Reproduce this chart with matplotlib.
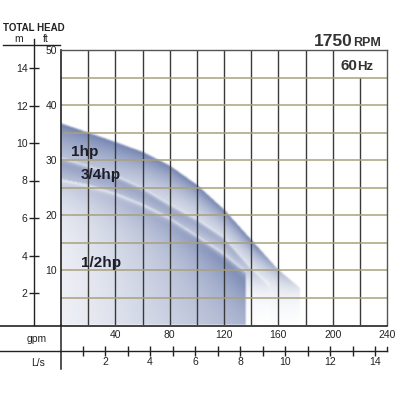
import numpy as np
import matplotlib
matplotlib.use("Agg")
import matplotlib.pyplot as plt
from matplotlib.lines import Line2D

# ---- data ----
gpm_1hp = [0, 20, 40, 60, 80, 100, 120, 140, 160, 176]
ft_1hp = [36.7, 35.0, 33.3, 31.5, 29.0, 25.5, 21.0, 15.5, 10.0, 6.7]
gpm_34hp = [0, 20, 40, 60, 80, 100, 120, 140, 154]
ft_34hp = [30.5, 29.0, 27.3, 25.0, 22.0, 19.3, 16.0, 10.5, 7.3]
gpm_12hp = [0, 20, 40, 60, 80, 100, 120, 136]
ft_12hp = [26.5, 25.5, 24.0, 22.0, 19.5, 16.3, 13.0, 9.8]

ft_ticks = [10, 20, 30, 40, 50]
m_ticks = [2, 4, 6, 8, 10, 12, 14]
gpm_ticks = [40, 80, 120, 160, 200, 240]
ls_ticks = list(range(1, 15))
ls_labels = [str(v) if v % 2 == 0 else "" for v in ls_ticks]

plt.rcParams['font.family'] = ['Liberation Sans', 'DejaVu Sans']

W = H = 400.0
def fx(x):
    return x / W
def fy(y):
    return 1 - y / H

fig = plt.figure(figsize=(4, 4), dpi=100)
fig.patch.set_facecolor('white')

ax = fig.add_axes([fx(61), fy(325), (387 - 61) / W, (325 - 50) / H])
ax.set_xlim(0, 240)
ax.set_ylim(0, 50)

# ---- gradient shading of the pump curves ----
xs = np.linspace(0, 240, 720)
ys = np.linspace(0, 50, 300)
X, Y = np.meshgrid(xs, ys)

c1 = np.interp(X, gpm_1hp, ft_1hp)
c34 = np.interp(X, gpm_34hp, ft_34hp)
c12 = np.interp(X, gpm_12hp, ft_12hp)
in1 = (X <= gpm_1hp[-1]) & (Y <= c1)
in34 = (X <= gpm_34hp[-1]) & (Y <= c34)
in12 = (X <= gpm_12hp[-1]) & (Y <= c12)

t = np.zeros_like(X)
# 1 hp band
d1 = c1 - Y
L1 = np.interp(X, [0, 100, 176], [9.0, 5.0, 2.2])
fade1 = np.clip((182 - X) / 38.0, 0, 1) ** 0.8
t1 = 0.8 * np.exp(-d1 / L1) * fade1
m1 = in1 & ~in34
t[m1] = t1[m1]
# 3/4 hp band
d34 = c34 - Y
L34 = np.interp(X, [0, 100, 154], [6.0, 4.0, 2.0])
fade34 = np.clip((160 - X) / 32.0, 0, 1) ** 0.8
t34 = 0.78 * (1 - np.exp(-d34 / 0.45)) * np.exp(-d34 / L34) * fade34
m34 = in34 & ~in12
t[m34] = t34[m34]
# 1/2 hp region
d12 = c12 - Y
base = (0.12 + 0.5 * (X / 136.0) ** 1.1) * (0.75 + 0.25 * Y / np.maximum(c12, 1)) \
    + 0.28 * np.exp(-d12 / 4.0)
t12 = (1 - np.exp(-d12 / 0.45)) * np.clip(base, 0, 0.72)
t[in12] = t12[in12]

# slight softening
k = np.ones(5) / 5.0
t = np.apply_along_axis(lambda r: np.convolve(r, k, mode='same'), 1, t)
k2 = np.ones(3) / 3.0
t = np.apply_along_axis(lambda c: np.convolve(c, k2, mode='same'), 0, t)

blue = np.array([82, 102, 158]) / 255.0
rgb = 1 - t[..., None] * (1 - blue[None, None, :])
ax.imshow(rgb, extent=(0, 240, 0, 50), origin='lower', aspect='auto',
          zorder=0, interpolation='bilinear')

# ---- grid ----
for g in range(20, 240, 20):
    top = 45 if g == 220 else 50
    ax.plot([g, g], [0, top], color='#3a3a3a', lw=1.0, zorder=2)
for f in range(5, 50, 5):
    ax.axhline(f, color='#a8a07c', lw=1.1, zorder=2)

for s in ['top', 'right']:
    ax.spines[s].set_color('#555555')
    ax.spines[s].set_linewidth(1.0)
ax.spines['left'].set_color('#222222')
ax.spines['left'].set_linewidth(1.2)
ax.spines['bottom'].set_visible(False)

ax.set_yticks(ft_ticks)
ax.set_yticklabels([str(v) for v in ft_ticks])
ax.set_xticks(gpm_ticks)
ax.set_xticklabels([str(v) for v in gpm_ticks])
ax.tick_params(axis='y', length=0, pad=3, labelsize=7.5, colors='#222222')
ax.tick_params(axis='x', length=0, pad=3.5, labelsize=7.5, colors='#222222')

# curve labels
ax.text(17.7, 31.5, '1hp', fontsize=11, fontweight='bold', color='#1e1e2a',
        ha='center', va='center', zorder=3)
ax.text(29.5, 27.3, '3/4hp', fontsize=11, fontweight='bold', color='#1e1e2a',
        ha='center', va='center', zorder=3)
ax.text(29.5, 11.3, '1/2hp', fontsize=11, fontweight='bold', color='#1e1e2a',
        ha='center', va='center', zorder=3)

# ---- metre axis ----
m_bot = (330.5 - 325) / 18.75
m_top = (330.5 - 39) / 18.75
axm = fig.add_axes([fx(34), fy(325), 0.0001, (325 - 39) / H])
axm.set_ylim(m_bot, m_top)
axm.set_xticks([])
for s in ['top', 'right', 'bottom']:
    axm.spines[s].set_visible(False)
axm.spines['left'].set_color('#222222')
axm.spines['left'].set_linewidth(1.0)
axm.set_yticks(m_ticks)
axm.set_yticklabels([str(v) for v in m_ticks])
axm.tick_params(axis='y', direction='inout', length=7, width=1.0, pad=1,
                labelsize=7.5, colors='#222222')
axm.patch.set_visible(False)

# ---- L/s axis ----
ls_max = (387 - 60) / 22.5
axl = fig.add_axes([fx(60), fy(351), (387 - 60) / W, 0.0001])
axl.set_xlim(0, ls_max)
axl.set_yticks([])
for s in ['top', 'right', 'left']:
    axl.spines[s].set_visible(False)
axl.spines['bottom'].set_color('#222222')
axl.spines['bottom'].set_linewidth(1.0)
axl.set_xticks(ls_ticks)
axl.set_xticklabels(ls_labels)
axl.tick_params(axis='x', direction='inout', length=7, width=1.0, pad=1,
                labelsize=7.5, colors='#222222')
axl.patch.set_visible(False)

# ---- frame lines in figure coordinates ----
def fline(x0, y0, x1, y1, lw=1.0, color='#222222'):
    fig.add_artist(Line2D([fx(x0), fx(x1)], [fy(y0), fy(y1)], lw=lw,
                          color=color, transform=fig.transFigure))

fline(0, 325.5, 387, 325.5, lw=1.2)     # bottom of chart
fline(0, 351, 60, 351)                  # L/s line to the left
fline(61, 325, 61, 369, lw=1.1)         # vertical divider
fline(3, 44.5, 60, 44.5)                # header underline
fline(387, 347, 387, 351)               # end hook

# ---- text ----
fig.text(fx(3), fy(28), 'TOTAL HEAD', fontsize=7, fontweight='bold',
         color='#222222', ha='left', va='center')
fig.text(fx(19), fy(39), 'm', fontsize=7.5, color='#222222', ha='center', va='center')
fig.text(fx(46), fy(39), 'ft', fontsize=7.5, color='#222222', ha='center', va='center')
fig.text(fx(37), fy(339), 'gpm', fontsize=7.5, color='#222222', ha='center', va='center')
fig.text(fx(38), fy(363), 'L/s', fontsize=7.5, color='#222222', ha='center', va='center')

fig.text(fx(353), fy(46.5), '1750', fontsize=12.5, fontweight='bold',
         color='#333333', ha='right', va='baseline')
fig.text(fx(353), fy(46.5), 'RPM', fontsize=9, fontweight='bold',
         color='#333333', ha='left', va='baseline')
fig.text(fx(357), fy(69.5), '60', fontsize=11, fontweight='bold',
         color='#333333', ha='right', va='baseline')
fig.text(fx(357), fy(69.5), 'Hz', fontsize=9.5, fontweight='bold',
         color='#333333', ha='left', va='baseline')

fig.savefig('out.png', dpi=100, facecolor='white')
